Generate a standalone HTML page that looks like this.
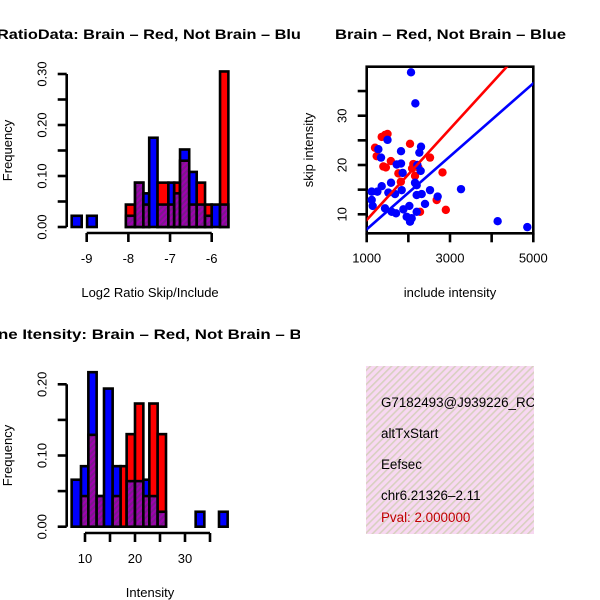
<!DOCTYPE html>
<html><head><meta charset="utf-8"><style>
html,body{margin:0;padding:0;background:#fff;width:600px;height:600px;overflow:hidden}
svg{display:block;font-family:"Liberation Sans",sans-serif}
</style></head><body>
<svg id="c" width="600" height="600" viewBox="0 0 600 600">
<defs>
<pattern id="hatch" patternUnits="userSpaceOnUse" width="4" height="4" patternTransform="rotate(45)">
<rect width="4" height="4" fill="#a000b0"/><rect width="2" height="4" fill="#7a1a8c"/></pattern>
<pattern id="pinkhatch" patternUnits="userSpaceOnUse" width="5" height="5" patternTransform="rotate(45)">
<rect width="5" height="5" fill="#f8d8f2"/><rect width="1.6" height="5" fill="#d8d0c0"/></pattern>
<clipPath id="clipL"><rect x="0" y="0" width="300" height="600"/></clipPath>
<clipPath id="clipS"><rect x="366.7" y="66.7" width="166.6" height="166.6"/></clipPath>
<clipPath id="clipT"><rect x="366" y="366" width="168" height="168"/></clipPath>
</defs>
<g id="p1"></g>
<g id="p2"></g>
<g id="p3"></g>
<g clip-path="url(#clipT)">
<rect x="366" y="366" width="168" height="168" fill="url(#pinkhatch)"/>
<g font-size="13.4" fill="#000">
<text x="381" y="407">G7182493@J939226_RC</text>
<text x="381" y="438">altTxStart</text>
<text x="381" y="469">Eefsec</text>
<text x="381" y="500">chr6.21326–2.11</text>
<text x="381" y="522" fill="#c00000">Pval: 2.000000</text>
</g></g>
</svg>
<script>
// ---- Panel 1: log2 ratio histogram
const h1Left=[-9.36,-8.99,-8.06,-7.84,-7.64,-7.50,-7.30,-7.04,-6.90,-6.76,-6.54,-6.36,-6.16,-6.00,-5.80];
const h1Right=[-9.12,-8.76,-7.84,-7.64,-7.50,-7.30,-7.04,-6.90,-6.76,-6.54,-6.36,-6.16,-6.00,-5.80,-5.60];
const h1Red=[0,0,0.044,0.087,0.044,0,0.087,0.044,0.087,0.13,0.044,0.087,0.044,0,0.305];
const h1Blue=[0.022,0.022,0.022,0.087,0.066,0.175,0.044,0.087,0.066,0.152,0.108,0.044,0.022,0.044,0.044];
const h1XTicks=[-9,-8,-7,-6];
const h1YTicks=[0,0.05,0.10,0.15,0.20,0.25,0.30];
const h1YLabels=["0.00","","0.10","","0.20","","0.30"];
// ---- Panel 2: scatter
const redX=[1200,1240,1360,1440,1500,1400,1460,1580,2040,2120,2090,2160,1760,1820,2280,2520,2820,2900,2680,2240];
const redY=[23.5,21.8,25.7,26.1,26.3,19.7,19.5,20.8,24.3,20.2,19.3,17.8,18.3,16.6,10.5,21.5,18.5,10.9,12.9,19.5];
const blueX=[2064,2168,1500,1280,1344,1824,2304,2264,1720,1824,1864,2216,2296,2160,2200,1584,1360,1120,1256,1120,1144,1520,1680,1840,2200,2320,2520,2704,3264,2400,1440,1600,1704,1880,1960,2024,2040,2080,2200,4144,4856];
const blueY=[38.8,32.5,25.1,23.2,21.5,22.8,23.7,22.5,20.1,20.3,18.4,20.0,18.8,16.4,15.9,16.4,15.7,14.6,14.6,12.9,11.7,14.4,14.1,14.9,13.9,14.1,14.9,13.6,15.1,12.1,11.2,10.5,10.2,11.0,9.5,11.7,8.5,9.2,10.5,8.6,7.4];
const fitRed=[-0.39,0.00924];   // intercept, slope
const fitBlue=[-0.44,0.0074];
const sXTicks=[1000,2000,3000,4000,5000];
const sXLabels=["1000","","3000","","5000"];
const sYTicks=[10,15,20,25,30,35];
const sYLabels=["10","","20","","30",""];
// ---- Panel 3: intensity histogram
const h3Left=[7.33,9.2,10.67,12.33,13.8,15.53,17.13,18.33,20,21.67,22.87,24.53,32.13,36.8];
const h3Right=[9.2,10.67,12.33,13.8,15.53,17.13,18.33,20,21.67,22.87,24.53,26.2,33.87,38.53];
const h3Red=[0,0.043,0.129,0.043,0,0.043,0.085,0.13,0.173,0.043,0.173,0.13,0,0];
const h3Blue=[0.066,0.085,0.217,0.043,0.194,0.085,0,0.064,0.064,0.066,0.043,0.021,0.021,0.021];
const h3XTicks=[10,15,20,25,30,35];
const h3XLabels=["10","","20","","30",""];
const h3YTicks=[0,0.05,0.10,0.15,0.20];
const h3YLabels=["0.00","","0.10","","0.20"];

const NS="http://www.w3.org/2000/svg";
const FS=13;
function mk(parent,tag,attrs){const e=document.createElementNS(NS,tag);for(const k in attrs)e.setAttribute(k,attrs[k]);parent.appendChild(e);return e;}
function txt(parent,x,y,s,attrs){const t=mk(parent,"text",Object.assign({x:x,y:y},attrs||{}));t.textContent=s;return t;}

function histogram(g,o){
  const sx=v=>o.x0+(v-o.xv0)*o.xk, sy=v=>o.y0-v*o.yk;
  const bars=mk(g,"g",{"clip-path":"url(#clipL)"});
  
  
  for(let i=0;i<o.left.length;i++){
    const r=o.red[i],b=o.blue[i],hi=Math.max(r,b),lo=Math.min(r,b);
    const x1=sx(o.left[i]),x2=sx(o.right[i]);
    const big=mk(bars,"rect",{x:x1,y:sy(hi),width:x2-x1,height:sy(0)-sy(hi),fill:r>b?"#ff0000":"#0000ff",stroke:"#000","stroke-width":2.6});
    
    
    if(lo>0){
      const p=mk(bars,"rect",{x:x1,y:sy(lo),width:x2-x1,height:sy(0)-sy(lo),fill:"url(#hatch)",stroke:"#000","stroke-width":2.6});
      
      
    }
  }
  const ya=mk(g,"g",{});
  
  
  mk(ya,"line",{x1:o.yaxX,x2:o.yaxX,y1:sy(o.yt[0]),y2:sy(o.yt[o.yt.length-1]),stroke:"#000","stroke-width":2.6});
  o.yt.forEach((v,i)=>{mk(ya,"line",{x1:o.yaxX-9,x2:o.yaxX,y1:sy(v),y2:sy(v),stroke:"#000","stroke-width":2.6});
    if(o.yl[i]){const t=txt(ya,o.yaxX-20,sy(v),o.yl[i],{"font-size":FS,"text-anchor":"middle",transform:`rotate(-90 ${o.yaxX-20} ${sy(v)})`});
      
      }});
  const xa=mk(g,"g",{});
  
  
  mk(xa,"line",{x1:sx(o.xt[0]),x2:sx(o.xt[o.xt.length-1]),y1:o.xaxY,y2:o.xaxY,stroke:"#000","stroke-width":2.6});
  o.xt.forEach((v,i)=>{mk(xa,"line",{x1:sx(v),x2:sx(v),y1:o.xaxY,y2:o.xaxY+9,stroke:"#000","stroke-width":2.6});
    if(o.xl[i]){const t=txt(xa,sx(v),o.xaxY+30,o.xl[i],{"font-size":FS,"text-anchor":"middle"});
      
      }});
  const ym=(sy(o.yt[0])+sy(o.yt[o.yt.length-1]))/2;
  const yt=txt(g,12,ym,"Frequency",{"font-size":FS,"text-anchor":"middle",transform:`rotate(-90 12 ${ym})`});
  
  
  const xt=txt(g,150,o.xaxY+64,o.xtitle,{"font-size":FS,"text-anchor":"middle"});
  
  
  const tt=txt(g,o.titleX,o.titleY,o.title,{"font-size":14,"font-weight":"bold","clip-path":"url(#clipL)",textLength:o.titleLen,lengthAdjust:"spacingAndGlyphs"});
  
  
}

histogram(document.getElementById("p1"),{left:h1Left,right:h1Right,red:h1Red,blue:h1Blue,
  x0:86.7,xv0:-9,xk:41.67,y0:227,yk:510,yt:h1YTicks,yl:h1YLabels,xt:h1XTicks,xl:["-9","-8","-7","-6"],
  yaxX:66.7,xaxY:233,xtitle:"Log2 Ratio Skip/Include",title:"RatioData: Brain – Red, Not Brain – Blue",titleX:-3,titleY:39,titleLen:313});
histogram(document.getElementById("p3"),{left:h3Left,right:h3Right,red:h3Red,blue:h3Blue,
  x0:85,xv0:10,xk:5,y0:526.7,yk:712,yt:h3YTicks,yl:h3YLabels,xt:h3XTicks,xl:h3XLabels,
  yaxX:66.7,xaxY:533,xtitle:"Intensity",title:"ne Itensity: Brain – Red, Not Brain – Blue",titleX:-2,titleY:339,titleLen:328});

// scatter
(function(){
  const g=document.getElementById("p2");
  const L=366.7,R=533.3,T=66.7,B=233.3;
  const sx=v=>L+(v-1000)*(R-L)/4000, sy=v=>214.3-(v-10)*4.93;
  const box=mk(g,"rect",{x:L,y:T,width:R-L,height:B-T,fill:"none",stroke:"#000","stroke-width":2.6});
  
  
  const pts=mk(g,"g",{"clip-path":"url(#clipS)"});
  
  
  redX.forEach((x,i)=>{const c=mk(pts,"circle",{cx:sx(x),cy:sy(redY[i]),r:4.2,fill:"#ff0000"});
    
    });
  blueX.forEach((x,i)=>{const c=mk(pts,"circle",{cx:sx(x),cy:sy(blueY[i]),r:4.2,fill:"#0000ff"});
    
    });
  [[fitRed,"#ff0000","fit-line-brain"],[fitBlue,"#0000ff","fit-line-not-brain"]].forEach(([f,col,n])=>{
    const l=mk(pts,"line",{x1:sx(0),y1:sy(f[0]),x2:sx(6000),y2:sy(f[0]+f[1]*6000),stroke:col,"stroke-width":2.6});
    
    });
  sXTicks.forEach((v,i)=>{mk(g,"line",{x1:sx(v),x2:sx(v),y1:B,y2:B+9,stroke:"#000","stroke-width":2.6});
    if(sXLabels[i]){const t=txt(g,sx(v),B+29,sXLabels[i],{"font-size":FS,"text-anchor":"middle"});
      
      }});
  sYTicks.forEach((v,i)=>{mk(g,"line",{x1:L-9,x2:L,y1:sy(v),y2:sy(v),stroke:"#000","stroke-width":2.6});
    if(sYLabels[i]){const t=txt(g,L-20,sy(v),sYLabels[i],{"font-size":FS,"text-anchor":"middle",transform:`rotate(-90 ${L-20} ${sy(v)})`});
      
      }});
  const xt=txt(g,450,297,"include intensity",{"font-size":FS,"text-anchor":"middle"});
  
  
  const yt=txt(g,313,150,"skip intensity",{"font-size":FS,"text-anchor":"middle",transform:"rotate(-90 313 150)"});
  
  
  const tt=txt(g,335,39,"Brain – Red, Not Brain – Blue",{"font-size":14,"font-weight":"bold",textLength:231,lengthAdjust:"spacingAndGlyphs"});
  
  
})();
</script>
</body></html>
